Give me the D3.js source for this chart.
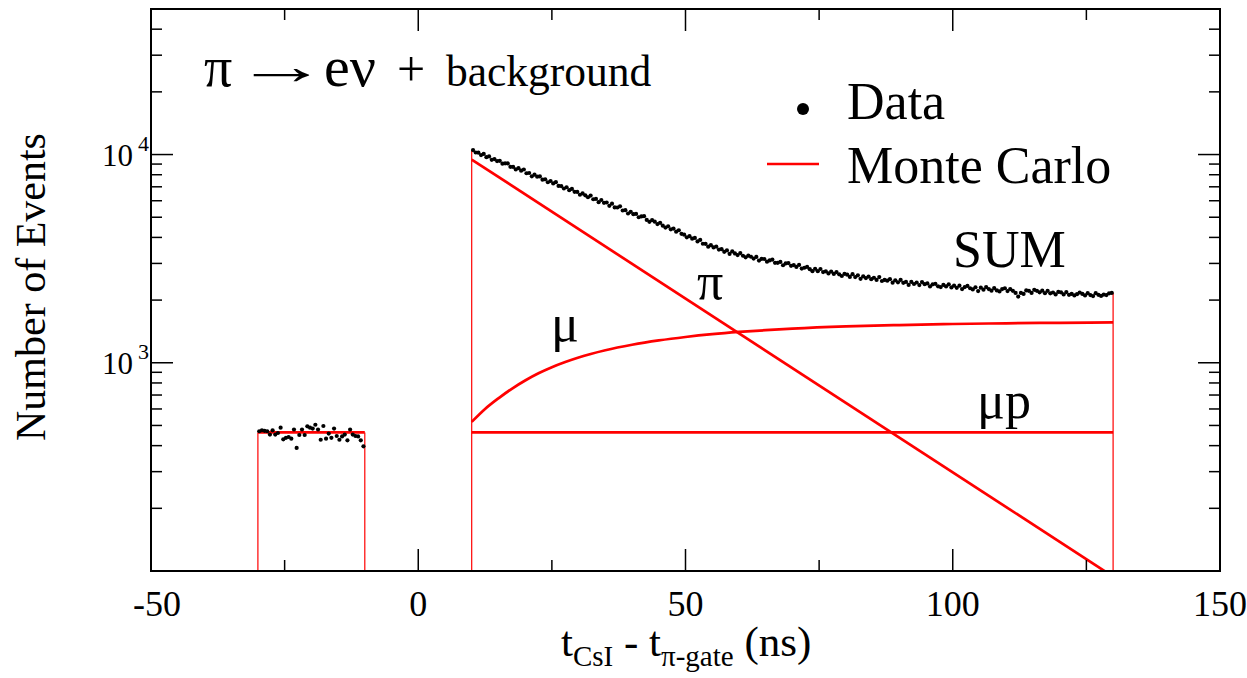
<!DOCTYPE html>
<html>
<head>
<meta charset="utf-8">
<script src="https://cdn.jsdelivr.net/npm/d3@7"></script>
<style>
  body { margin: 0; background: #fff; }
  svg { display: block; }
  text { font-family: "Liberation Serif", "Times New Roman", serif; fill: #000; }
</style>
</head>
<body>
<svg id="chart" width="1247" height="678"></svg>
<script>
// ---- axis ticks ----
const xTicksMajor = [-50, 0, 50, 100, 150];
const xTicksMinor = [-25, 25, 75, 125];
const yTicksMajor = [1000, 10000];
const yTickExponents = ["3", "4"];
const yTicksMinor = [200, 300, 400, 500, 600, 700, 800, 900,
                     2000, 3000, 4000, 5000, 6000, 7000, 8000, 9000,
                     20000, 30000, 40000];

// ---- histogram binning (ns) ----
const bgBinStart = -30;
const signalBinStart = 10;
const binWidth = 0.5;

// ---- measured counts, pre-gate background window (-30 .. -10 ns) ----
const bgCounts = [469, 474, 471, 469, 452, 474, 452, 460, 488, 429,
                  436, 440, 432, 478, 390, 450, 478, 450, 495, 488,
                  483, 504, 478, 427, 497, 432, 457, 436, 483, 445,
                  427, 443, 452, 424, 478, 452, 445, 443, 424, 397];

// ---- measured counts, signal window (10 .. 130 ns) ----
const signalCounts = [
  10510, 10230, 10210, 9940, 10070, 9710, 9790, 9430, 9510, 9300,
  9330, 9040, 9075, 9060, 8730, 8720, 8485, 8600, 8370, 8475,
  8130, 8155, 7860, 8005, 7830, 7850, 7575, 7600, 7360, 7465,
  7270, 7365, 7070, 7055, 6870, 6965, 6745, 6840, 6625, 6615,
  6410, 6505, 6370, 6235, 6355, 6100, 6125, 5905, 6050, 5865,
  5885, 5675, 5810, 5575, 5567, 5640, 5385, 5405, 5210, 5310,
  5170, 5185, 5000, 5045, 5060, 4855, 4750, 4840, 4760, 4635,
  4700, 4555, 4460, 4520, 4375, 4410, 4260, 4330, 4160, 4123,
  4005, 4055, 3945, 3975, 3825, 3890, 3730, 3726, 3610, 3670,
  3580, 3615, 3495, 3510, 3410, 3465, 3335, 3430, 3350, 3290,
  3365, 3265, 3210, 3270, 3230, 3165, 3225, 3095, 3155, 3150,
  3060, 3100, 3130, 3020, 3020, 3050, 2940, 3000, 3010, 2920,
  2945, 2885, 2950, 2835, 2860, 2885, 2815, 2755, 2825, 2755,
  2820, 2725, 2750, 2685, 2740, 2670, 2725, 2660, 2610, 2675,
  2650, 2585, 2665, 2580, 2630, 2530, 2600, 2550, 2595, 2520,
  2560, 2500, 2580, 2470, 2500, 2480, 2520, 2425, 2490, 2435,
  2500, 2420, 2445, 2365, 2445, 2390, 2430, 2360, 2440, 2385,
  2405, 2325, 2380, 2395, 2330, 2310, 2365, 2325, 2380, 2300,
  2345, 2290, 2345, 2260, 2310, 2340, 2280, 2250, 2305, 2210,
  2295, 2245, 2310, 2260, 2220, 2285, 2225, 2200, 2260, 2280,
  2210, 2260, 2215, 2165, 2080, 2165, 2140, 2225, 2215, 2165,
  2240, 2215, 2180, 2220, 2160, 2215, 2155, 2175, 2130, 2190,
  2180, 2130, 2185, 2120, 2140, 2105, 2135, 2175, 2140, 2105,
  2160, 2115, 2090, 2160, 2120, 2095, 2125, 2115, 2155, 2165
];

// ---- Monte Carlo components ----
const piCurve = [[10, 9460], [130, 94]];            // pi -> e nu decay
const muCurve = [[10, 520], [12.5, 600], [15, 675], [17.5, 750], [20, 822],
                 [22.5, 890], [25, 952], [27.5, 1008], [30, 1060], [35, 1148],
                 [40, 1220], [45, 1280], [50, 1330], [55, 1372], [60, 1406],
                 [65, 1434], [70, 1458], [80, 1494], [90, 1518], [100, 1535],
                 [110, 1547], [120, 1556], [130, 1562]];  // pi -> mu -> e chain
const muPileupCurve = [[10, 463], [130, 463]];       // "mu p" flat component
const bgCurve = [[-30, 463], [-10, 463]];            // pre-gate background
const sumEdges = [[-30, 463], [-10, 463], [10, 10500], [130, 2170]];

// ---- layout ----
const svg = d3.select("#chart");
const plotLeft = 151, plotRight = 1220, plotTop = 9, plotBottom = 571;
const x = d3.scaleLinear().domain([-50, 150]).range([plotLeft, plotRight]);
const y = d3.scaleLog().domain([100, 50000]).range([plotBottom, plotTop]);
const red = "#ff0000";

svg.append("defs").append("clipPath").attr("id", "plot-clip")
  .append("rect").attr("x", plotLeft).attr("y", plotTop)
  .attr("width", plotRight - plotLeft).attr("height", plotBottom - plotTop);

const plot = svg.append("g").attr("clip-path", "url(#plot-clip)");

// thin outline edges of the Monte Carlo histogram windows
plot.append("g").selectAll("line").data(sumEdges).join("line")
  .attr("x1", d => x(d[0])).attr("x2", d => x(d[0]))
  .attr("y1", y(100)).attr("y2", d => y(d[1]))
  .attr("stroke", red).attr("stroke-width", 1.2);

const line = d3.line().x(d => x(d[0])).y(d => y(d[1]));
const smooth = d3.line().x(d => x(d[0])).y(d => y(d[1])).curve(d3.curveMonotoneX);

[[bgCurve, line], [muPileupCurve, line], [piCurve, line], [muCurve, smooth]]
  .forEach(([data, gen]) => {
    plot.append("path").datum(data).attr("d", gen)
      .attr("fill", "none").attr("stroke", red).attr("stroke-width", 2.7);
  });

// data points
const bgPoints = bgCounts.map((v, i) => [bgBinStart + (i + 0.5) * binWidth, v]);
const sigPoints = signalCounts.map((v, i) => [signalBinStart + (i + 0.5) * binWidth, v]);
plot.append("g").selectAll("circle").data(bgPoints.concat(sigPoints)).join("circle")
  .attr("cx", d => x(d[0])).attr("cy", d => y(d[1])).attr("r", 2.1).attr("fill", "#000");

// ---- axes (ticks on all four sides, pointing inward) ----
const axes = svg.append("g").attr("stroke", "#000").attr("stroke-width", 1.5);
const majorLen = 22, minorLen = 11;
function xTicks(vals, len) {
  vals.forEach(v => {
    axes.append("line").attr("x1", x(v)).attr("x2", x(v)).attr("y1", plotBottom).attr("y2", plotBottom - len);
    axes.append("line").attr("x1", x(v)).attr("x2", x(v)).attr("y1", plotTop).attr("y2", plotTop + len);
  });
}
function yTicks(vals, len) {
  vals.forEach(v => {
    axes.append("line").attr("x1", plotLeft).attr("x2", plotLeft + len).attr("y1", y(v)).attr("y2", y(v));
    axes.append("line").attr("x1", plotRight).attr("x2", plotRight - len).attr("y1", y(v)).attr("y2", y(v));
  });
}
xTicks(xTicksMajor, majorLen);
xTicks(xTicksMinor, minorLen);
yTicks(yTicksMajor, majorLen);
yTicks(yTicksMinor, minorLen);

svg.append("rect").attr("x", plotLeft).attr("y", plotTop)
  .attr("width", plotRight - plotLeft).attr("height", plotBottom - plotTop)
  .attr("fill", "none").attr("stroke", "#000").attr("stroke-width", 2);

// tick labels (the minus sign hangs to the left of the centred digits)
svg.append("g").selectAll("text").data(xTicksMajor).join("text")
  .attr("x", d => x(d) + (d < 0 ? 6 : 0)).attr("y", 616).attr("text-anchor", "middle")
  .style("font-size", "36px").text(d => d);

yTicksMajor.forEach((v, i) => {
  const t = svg.append("text").attr("x", 102).attr("y", y(v) + 11).style("font-size", "31px");
  t.append("tspan").text("10");
  t.append("tspan").attr("dx", 5).attr("dy", -15).style("font-size", "22px").text(yTickExponents[i]);
});

// axis titles
svg.append("text").attr("transform", "translate(45,287) rotate(-90)")
  .attr("text-anchor", "middle").style("font-size", "42px").text("Number of Events");

const xt = svg.append("text").attr("x", 561).attr("y", 656).style("font-size", "43px");
xt.append("tspan").text("t");
xt.append("tspan").attr("dy", 10).style("font-size", "29px").text("CsI");
xt.append("tspan").attr("dy", -10).text(" - t");
xt.append("tspan").attr("dy", 10).style("font-size", "29px").text("π-gate");
xt.append("tspan").attr("dy", -10).text(" (ns)");

// title: pi -> e nu + background
const titleG = svg.append("g");
titleG.append("text").attr("x", 204).attr("y", 86).style("font-size", "56px").text("π");
titleG.append("text").attr("transform", "translate(235,84) scale(1.8,1)")
  .style("font-size", "52px").text("→");
titleG.append("text").attr("x", 324).attr("y", 86).style("font-size", "58px").text("eν");
titleG.append("text").attr("x", 397).attr("y", 86).style("font-size", "50px").text("+");
titleG.append("text").attr("x", 446).attr("y", 86).style("font-size", "43.5px").text("background");

// component labels
svg.append("text").attr("x", 953).attr("y", 267).style("font-size", "52px").text("SUM");
svg.append("text").attr("x", 697).attr("y", 299).style("font-size", "52px").text("π");
svg.append("text").attr("x", 551).attr("y", 341).style("font-size", "52px").text("μ");
svg.append("text").attr("x", 977).attr("y", 418).style("font-size", "52px").text("μp");

// legend
svg.append("circle").attr("cx", 803).attr("cy", 109).attr("r", 6).attr("fill", "#000");
svg.append("text").attr("x", 847).attr("y", 119).style("font-size", "52px").text("Data");
svg.append("line").attr("x1", 767).attr("x2", 819).attr("y1", 164).attr("y2", 164)
  .attr("stroke", red).attr("stroke-width", 2.7);
svg.append("text").attr("x", 847).attr("y", 183).style("font-size", "52px").text("Monte Carlo");
</script>
</body>
</html>
